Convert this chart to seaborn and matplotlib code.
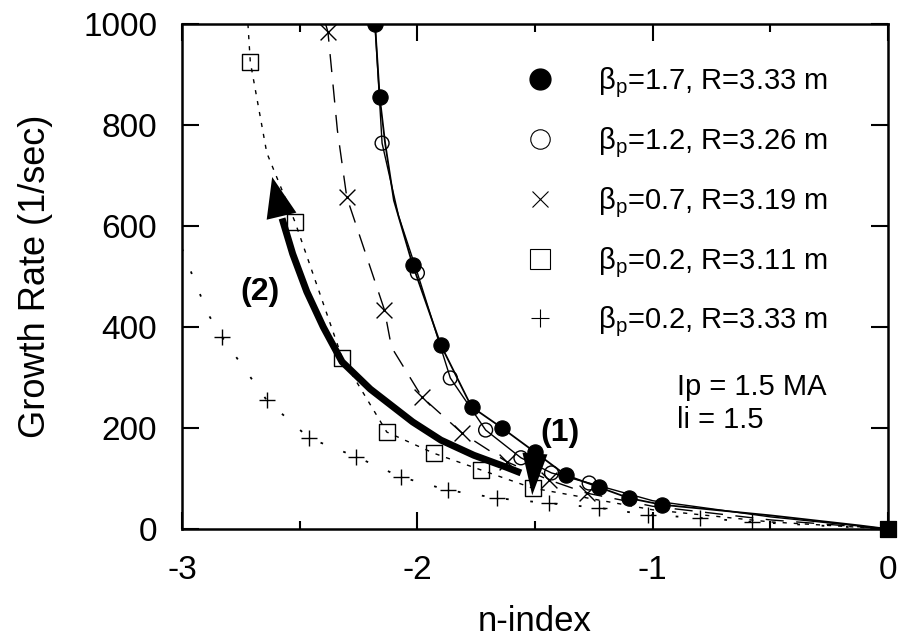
import matplotlib
matplotlib.use('Agg')
import matplotlib.pyplot as plt
from matplotlib.lines import Line2D
from matplotlib.ticker import MultipleLocator
import seaborn as sns

sns.set_style('ticks')
plt.rcParams['font.family'] = ['Liberation Sans', 'DejaVu Sans']
plt.rcParams['mathtext.fontset'] = 'custom'
plt.rcParams['mathtext.rm'] = 'Liberation Sans'
plt.rcParams['axes.unicode_minus'] = False
for key in ['text.color', 'axes.labelcolor', 'xtick.color', 'ytick.color', 'axes.edgecolor']:
    plt.rcParams[key] = 'black'

# markers (n-index, growth rate 1/sec)
n_a = [-2.18, -2.16, -2.02, -1.90, -1.77, -1.64, -1.50, -1.37, -1.23, -1.10, -0.96]
g_a = [1000, 855, 523, 364, 242, 200, 152, 107, 83, 61, 48]
n_b = [-2.15, -2.00, -1.86, -1.71, -1.56, -1.43, -1.27]
g_b = [764, 507, 299, 196, 141, 111, 91]
n_c = [-2.38, -2.30, -2.14, -1.98, -1.81, -1.62, -1.44, -1.28]
g_c = [984, 657, 434, 261, 190, 133, 97, 71]
n_d = [-2.71, -2.52, -2.32, -2.13, -1.93, -1.73, -1.51]
g_d = [925, 608, 339, 192, 150, 117, 81]
n_e = [-2.83, -2.64, -2.46, -2.26, -2.07, -1.87, -1.66, -1.44, -1.23, -1.02, -0.80, -0.58]
g_e = [380, 255, 180, 143, 103, 77, 61, 51, 42, 28, 22, 14]
end_n = [0.0]
end_g = [0]

# fitted curves as drawn in the picture
cn_a = [-2.18, -2.16, -2.137, -2.10, -2.02, -1.90, -1.77, -1.64, -1.50, -1.37, -1.23, -1.10, -0.96, -0.50, -0.12, 0.0]
cg_a = [1000, 855, 764, 651, 523, 364, 242, 200, 152, 107, 83, 61, 48, 27, 7, 0]
cn_b = [-2.18, -2.15, -2.08, -2.00, -1.86, -1.71, -1.56, -1.43, -1.27, -1.00, -0.50, 0.0]
cg_b = [1000, 764, 620, 507, 299, 196, 141, 111, 91, 56, 24, 0]
cn_c = [-2.39, -2.38, -2.34, -2.30, -2.14, -2.11, -1.98, -1.81, -1.62, -1.44, -1.28, -1.00, -0.50, 0.0]
cg_c = [1000, 984, 790, 657, 434, 360, 261, 190, 133, 97, 71, 45, 18, 0]
cn_d = [-2.72, -2.71, -2.64, -2.52, -2.32, -2.13, -1.93, -1.73, -1.51, -1.00, -0.50, 0.0]
cg_d = [1000, 925, 745, 608, 339, 192, 150, 117, 81, 38, 14, 0]
cn_e = [-3.00, -2.96, -2.89, -2.83, -2.64, -2.46, -2.26, -2.07, -1.87, -1.66, -1.44, -1.23, -1.02, -0.80, -0.58, -0.30, 0.0]
cg_e = [555, 507, 426, 380, 255, 180, 143, 103, 77, 61, 51, 42, 28, 22, 14, 7, 0]

# thick arrow (2) path and arrow (1)
arr2_n = [-1.56, -1.62, -1.76, -1.90, -2.02, -2.20, -2.32, -2.40, -2.47, -2.53, -2.575]
arr2_g = [111, 122, 146, 176, 212, 277, 331, 400, 470, 545, 615]
arr2_tip = (-2.617, 697)
arr1_from = (-1.50, 152)
arr1_tip = (-1.512, 67)

labels = [r'β$_\mathregular{p}$=1.7, R=3.33 m', r'β$_\mathregular{p}$=1.2, R=3.26 m',
          r'β$_\mathregular{p}$=0.7, R=3.19 m', r'β$_\mathregular{p}$=0.2, R=3.11 m',
          r'β$_\mathregular{p}$=0.2, R=3.33 m']

fig = plt.figure(figsize=(8.99, 6.43), dpi=100)
ax = fig.add_axes([0.2025, 0.1773, 0.7853, 0.7854])

# curves
sns.lineplot(x=cn_a, y=cg_a, sort=False, estimator=None, color='black', linewidth=1.3, ax=ax)
sns.lineplot(x=cn_b, y=cg_b, sort=False, estimator=None, color='black', linewidth=1.0, ax=ax)
sns.lineplot(x=cn_c, y=cg_c, sort=False, estimator=None, color='black', linewidth=1.0,
             linestyle=(0, (13, 9)), ax=ax)
sns.lineplot(x=cn_d, y=cg_d, sort=False, estimator=None, color='black', linewidth=1.0,
             linestyle=(0, (3, 5)), ax=ax)
sns.lineplot(x=cn_e, y=cg_e, sort=False, estimator=None, color='black', linewidth=1.3,
             linestyle=(0, (1.5, 12)), ax=ax)

# thick arrows
ax.plot(arr2_n, arr2_g, color='black', linewidth=5, solid_capstyle='butt')
ax.annotate('', xy=arr2_tip, xytext=(arr2_n[-1], arr2_g[-1]),
            arrowprops=dict(arrowstyle='-|>,head_length=1.45,head_width=0.55',
                            mutation_scale=20, color='black', lw=0,
                            shrinkA=0, shrinkB=0))
ax.annotate('', xy=arr1_tip, xytext=arr1_from,
            arrowprops=dict(arrowstyle='-|>,head_length=1.5,head_width=0.45',
                            mutation_scale=20, color='black', lw=0,
                            shrinkA=0, shrinkB=0))

# markers
sns.scatterplot(x=n_a, y=g_a, marker='o', color='black', edgecolor='black', s=120, ax=ax, zorder=3)
sns.scatterplot(x=n_b, y=g_b, marker='o', facecolor='none', edgecolor='black', linewidth=1.0,
                s=100, ax=ax, zorder=3)
sns.scatterplot(x=n_c, y=g_c, marker='x', color='black', linewidth=1.0, s=130, ax=ax, zorder=3)
sns.scatterplot(x=n_d, y=g_d, marker='s', facecolor='none', edgecolor='black', linewidth=1.0,
                s=130, ax=ax, zorder=3)
sns.scatterplot(x=n_e, y=g_e, marker='+', color='black', linewidth=1.0, s=140, ax=ax, zorder=3)
sns.scatterplot(x=end_n, y=end_g, marker='s', color='black', edgecolor='black', s=130, ax=ax,
                zorder=4, clip_on=False)

# legend
handles = [
    Line2D([], [], ls='none', marker='o', color='black', ms=15),
    Line2D([], [], ls='none', marker='o', mfc='none', mec='black', mew=0.8, ms=14),
    Line2D([], [], ls='none', marker='x', color='black', mew=0.8, ms=11),
    Line2D([], [], ls='none', marker='s', mfc='none', mec='black', mew=0.8, ms=14),
    Line2D([], [], ls='none', marker='+', color='black', mew=0.8, ms=13),
]
ax.legend(handles, labels, loc='upper left', bbox_to_anchor=(0.486, 0.917), frameon=False,
          fontsize=21, handlelength=1.0, handletextpad=1.49, labelspacing=0.86,
          borderpad=0, borderaxespad=0)

ax.text(0.701, 0.265, 'Ip = 1.5 MA', transform=ax.transAxes, fontsize=21, va='baseline')
ax.text(0.701, 0.200, 'li = 1.5', transform=ax.transAxes, fontsize=21, va='baseline')
ax.text(0.535, 0.19, '(1)', transform=ax.transAxes, fontsize=23, fontweight='bold',
        ha='center', va='center')
ax.text(0.110, 0.469, '(2)', transform=ax.transAxes, fontsize=23, fontweight='bold',
        ha='center', va='center')

ax.set_xlim(-3, 0)
ax.set_ylim(0, 1000)
ax.set_xticks([-3, -2, -1, 0])
ax.set_xticklabels(['-3', '-2', '-1', '0'])
ax.set_yticks(range(0, 1001, 200))
ax.xaxis.set_minor_locator(MultipleLocator(0.5))
ax.tick_params(which='both', direction='in', top=True, right=True, labelsize=24, width=1.5)
ax.tick_params(which='major', length=12)
ax.tick_params(which='minor', length=6)
ax.tick_params(axis='x', pad=18.5)
ax.tick_params(axis='y', pad=18)
for sp in ax.spines.values():
    sp.set_linewidth(1.8)

ax.set_xlabel('n-index', fontsize=25)
ax.set_ylabel('Growth Rate (1/sec)', fontsize=26)
ax.xaxis.set_label_coords(0.5, -0.15)
ax.yaxis.set_label_coords(-0.183, 0.5)

fig.savefig('out.png', dpi=100)
